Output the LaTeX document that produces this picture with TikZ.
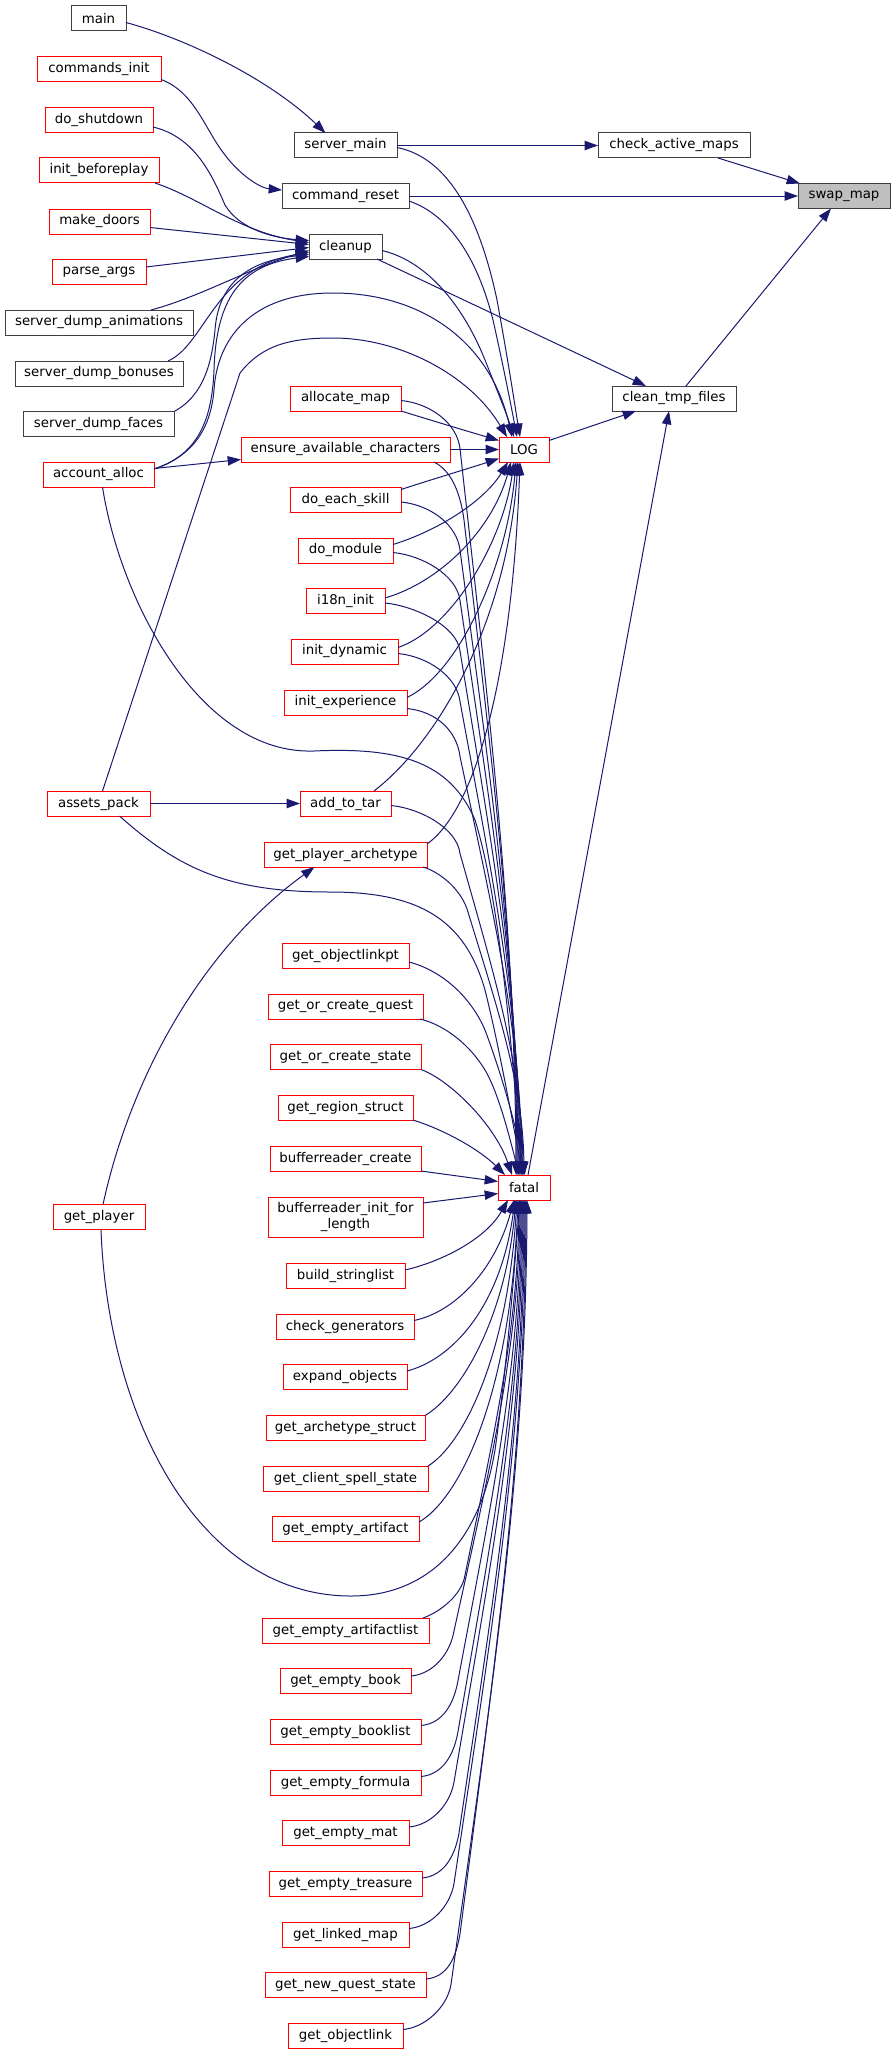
\documentclass[tikz,border=0pt]{standalone}
\usepackage{fontspec}
\newfontfamily\dv{DejaVu Sans}
\usetikzlibrary{arrows.meta,calc}
\definecolor{edgeblue}{HTML}{191970}
\definecolor{fnred}{HTML}{FF0000}
\definecolor{fngray}{HTML}{404040}
\definecolor{rootfill}{HTML}{BFBFBF}
\begin{document}
\begin{tikzpicture}[x=0.75pt,y=-0.75pt,
  box/.style={fill=white, line width=0.75pt, inner sep=0pt, outer sep=0pt, minimum height=18.75pt, font=\dv\fontsize{10}{11.5}\selectfont},
  rb/.style={box, draw=fnred},
  kb/.style={box, draw=fngray},
  bw/.style={minimum width=#1*0.75pt},
  arr/.style={draw=edgeblue, line width=0.75pt, -{Triangle[length=10pt,width=7pt]}}]
\useasboundingbox (0,0) rectangle (892,2055);
\fill[white] (0,0) rectangle (892,2055);

% left column
\node[kb,bw=55]  (main) at (98.5,18.5) {main};
\node[rb,bw=124] (commands_init) at (99,69.5) {commands\_init};
\node[rb,bw=108] (do_shutdown) at (99,120) {do\_shutdown};
\node[rb,bw=120] (init_beforeplay) at (99,170.5) {init\_beforeplay};
\node[rb,bw=101] (make_doors) at (99.5,221.5) {make\_doors};
\node[rb,bw=94]  (parse_args) at (99,272) {parse\_args};
\node[kb,bw=188] (server_dump_animations) at (99,322.5) {server\_dump\_animations};
\node[kb,bw=168] (server_dump_bonuses) at (99,373.5) {server\_dump\_bonuses};
\node[kb,bw=151] (server_dump_faces) at (98.5,424) {server\_dump\_faces};
\node[rb,bw=111] (account_alloc) at (98.5,474.5) {account\_alloc};
\node[rb,bw=103] (assets_pack) at (98.5,803.5) {assets\_pack};
\node[rb,bw=92]  (get_player) at (99,1217) {get\_player};

% middle column
\node[kb,bw=103] (server_main) at (345.5,145.5) {server\_main};
\node[kb,bw=127] (command_reset) at (345.5,196) {command\_reset};
\node[kb,bw=73]  (cleanup) at (345.5,246.5) {cleanup};
\node[rb,bw=111] (allocate_map) at (345.5,398.5) {allocate\_map};
\node[rb,bw=209] (ensure_available_characters) at (345.5,449.5) {ensure\_available\_characters};
\node[rb,bw=111] (do_each_skill) at (345.5,500) {do\_each\_skill};
\node[rb,bw=95]  (do_module) at (345.5,550.5) {do\_module};
\node[rb,bw=79]  (i18n_init) at (345.5,601) {i18n\_init};
\node[rb,bw=107] (init_dynamic) at (344.5,651.5) {init\_dynamic};
\node[rb,bw=123] (init_experience) at (345.5,702.5) {init\_experience};
\node[rb,bw=91]  (add_to_tar) at (345.5,803.5) {add\_to\_tar};
\node[rb,bw=163] (get_player_archetype) at (345.5,854.5) {get\_player\_archetype};
\node[rb,bw=127] (get_objectlinkpt) at (345.5,956) {get\_objectlinkpt};
\node[rb,bw=155] (get_or_create_quest) at (345.5,1006.5) {get\_or\_create\_quest};
\node[rb,bw=151] (get_or_create_state) at (345.5,1057) {get\_or\_create\_state};
\node[rb,bw=135] (get_region_struct) at (345.5,1107.5) {get\_region\_struct};
\node[rb,bw=151] (bufferreader_create) at (345.5,1158.5) {bufferreader\_create};
\node[rb,bw=155,minimum height=30pt,align=center] (bufferreader_init_for_length) at (345.5,1217) {bufferreader\_init\_for\\\_length};
\node[rb,bw=119] (build_stringlist) at (345.5,1276) {build\_stringlist};
\node[rb,bw=138] (check_generators) at (345,1326.5) {check\_generators};
\node[rb,bw=124] (expand_objects) at (345,1377) {expand\_objects};
\node[rb,bw=159] (get_archetype_struct) at (345.5,1428) {get\_archetype\_struct};
\node[rb,bw=165] (get_client_spell_state) at (345.5,1478.5) {get\_client\_spell\_state};
\node[rb,bw=147] (get_empty_artifact) at (345.5,1529) {get\_empty\_artifact};
\node[rb,bw=167] (get_empty_artifactlist) at (345.5,1630.5) {get\_empty\_artifactlist};
\node[rb,bw=131] (get_empty_book) at (345.5,1681) {get\_empty\_book};
\node[rb,bw=151] (get_empty_booklist) at (345.5,1731.5) {get\_empty\_booklist};
\node[rb,bw=151] (get_empty_formula) at (345.5,1782.5) {get\_empty\_formula};
\node[rb,bw=127] (get_empty_mat) at (345.5,1833) {get\_empty\_mat};
\node[rb,bw=153] (get_empty_treasure) at (345.5,1884) {get\_empty\_treasure};
\node[rb,bw=127] (get_linked_map) at (345.5,1934.5) {get\_linked\_map};
\node[rb,bw=161] (get_new_quest_state) at (345.5,1985) {get\_new\_quest\_state};
\node[rb,bw=115] (get_objectlink) at (345.5,2035.5) {get\_objectlink};

% right part
\node[rb,bw=50]  (LOG) at (524,449.5) {LOG};
\node[rb,bw=52]  (fatal) at (524,1187.5) {fatal};
\node[kb,bw=152] (check_active_maps) at (674,145.5) {check\_active\_maps};
\node[kb,bw=124] (clean_tmp_files) at (674,398.5) {clean\_tmp\_files};
\node[kb,bw=92,fill=rootfill] (swap_map) at (844,196) {swap\_map};

% top edges
\draw[arr] ($(main.east)+(0,4)$) .. controls (190,40) and (270,80) .. ($(server_main.north)+(-20,0)$);
\draw[arr] ($(commands_init.east)+(0,10)$) .. controls (195,92) and (205,130) .. (225,155) .. controls (240,175) and (260,188) .. ($(command_reset.west)+(0,-6)$);
\draw[arr] (server_main.east) -- (check_active_maps.west);
\draw[arr] (command_reset.east) -- (swap_map.west);
\draw[arr] ($(check_active_maps.south east)+(-32,0)$) -- ($(swap_map.north west)+(2,0)$);
\draw[arr] ($(clean_tmp_files.north)+(12,0)$) -- ($(swap_map.south)+(-13,0)$);
\draw[arr] ($(cleanup.south east)+(-5,0)$) -- ($(clean_tmp_files.north)+(-28,0)$);
\draw[arr] ($(LOG.east)+(0,-9)$) -- ($(clean_tmp_files.south)+(-38,0)$);
\draw[arr] ($(fatal.north)+(4,0)$) -- ($(clean_tmp_files.south)+(-5,0)$);

% cleanup callers
\draw[arr] ($(do_shutdown.east)+(0,7)$) .. controls (195,137) and (212,175) .. (225,205) .. controls (240,230) and (275,238) .. ($(cleanup.west)+(0,-6)$);
\draw[arr] ($(init_beforeplay.south east)+(-4,0)$) .. controls (200,198) and (240,232) .. ($(cleanup.west)+(0,-4)$);
\draw[arr] ($(make_doors.east)+(0,6)$) -- ($(cleanup.west)+(0,-2)$);
\draw[arr] ($(parse_args.east)+(0,-5)$) -- ($(cleanup.west)+(0,1)$);
\draw[arr] ($(server_dump_animations.north east)+(-42,0)$) .. controls (200,297) and (250,268) .. ($(cleanup.west)+(0,4)$);
\draw[arr] ($(server_dump_bonuses.north east)+(-15,0)$) .. controls (205,345) and (215,268) .. ($(cleanup.west)+(0,6)$);
\draw[arr] (server_dump_faces.north east) .. controls (205,395) and (212,360) .. (215,330) .. controls (218,290) and (240,262) .. ($(cleanup.west)+(0,8)$);
\draw[arr] ($(account_alloc.north east)+(0,7)$) .. controls (198,455) and (212,420) .. (214,370) .. controls (216,300) and (240,265) .. ($(cleanup.west)+(0,10)$);

% account_alloc
\draw[arr] ($(account_alloc.north east)+(0,7)$) .. controls (196,455) and (211,425) .. (214,390) .. controls (217,340) and (250,293) .. (333,293) .. controls (420,293) and (490,340) .. ($(LOG.north)+(-12,0)$);
\draw[arr] ($(account_alloc.east)+(0,-6)$) -- ($(ensure_available_characters.west)+(0,10)$);
\draw[arr] ($(account_alloc.south)+(4,0)$) .. controls (120,600) and (200,755) .. (314,751) .. controls (400,747) and (450,762) .. (475,820) .. controls (500,900) and (512,1050) .. ($(fatal.north)+(-2,0)$);

% assets_pack
\draw[arr] ($(assets_pack.north)+(4,0)$) -- (240,373) .. controls (262,345) and (290,338) .. (333,338) .. controls (400,338) and (470,375) .. ($(LOG.north west)+(8,0)$);
\draw[arr] (assets_pack.east) -- (add_to_tar.west);
\draw[arr] ($(assets_pack.south)+(21,0)$) .. controls (180,870) and (230,892) .. (330,892) .. controls (420,892) and (465,920) .. (485,990) .. controls (500,1050) and (512,1120) .. ($(fatal.north)+(-1,0)$);

% get_player
\draw[arr] ($(get_player.north)+(4,0)$) .. controls (130,1080) and (200,950) .. ($(get_player_archetype.south)+(-31,0)$);
\draw[arr] ($(get_player.south)+(2,0)$) .. controls (108,1420) and (200,1596) .. (351,1596) .. controls (430,1596) and (480,1540) .. (495,1450) .. controls (505,1380) and (512,1300) .. ($(fatal.south)+(-4,0)$);

% LOG from above
\draw[arr] ($(server_main.east)+(0,2)$) .. controls (450,158) and (480,220) .. (497,300) .. controls (508,360) and (514,400) .. ($(LOG.north)+(-4,0)$);
\draw[arr] ($(command_reset.east)+(0,5)$) .. controls (450,215) and (478,260) .. (493,320) .. controls (502,360) and (510,400) .. ($(LOG.north)+(-7,0)$);
\draw[arr] ($(cleanup.east)+(0,4)$) .. controls (430,262) and (465,310) .. (485,360) .. controls (497,390) and (507,415) .. ($(LOG.north)+(-10,0)$);

% LOG from the side and below
\draw[arr] (allocate_map.south east) .. controls (430,420) and (470,432) .. ($(LOG.west)+(0,-9)$);
\draw[arr] (ensure_available_characters.east) -- (LOG.west);
\draw[arr] ($(do_each_skill.north east)+(0,2)$) .. controls (430,480) and (470,468) .. ($(LOG.west)+(0,9)$);
\draw[arr] ($(do_module.east)+(0,-6)$) .. controls (440,530) and (485,500) .. ($(LOG.south)+(-16,0)$);
\draw[arr] ($(i18n_init.east)+(0,-3)$) .. controls (440,582) and (492,530) .. ($(LOG.south)+(-13,0)$);
\draw[arr] ($(init_dynamic.east)+(0,-4)$) .. controls (450,630) and (502,545) .. ($(LOG.south)+(-10,0)$);
\draw[arr] ($(init_experience.east)+(0,-5)$) .. controls (460,672) and (507,565) .. ($(LOG.south)+(-8,0)$);
\draw[arr] ($(add_to_tar.north east)+(-17,0)$) .. controls (440,740) and (507,620) .. ($(LOG.south)+(-6,0)$);
\draw[arr] ($(get_player_archetype.north east)+(0,2)$) .. controls (475,810) and (512,680) .. ($(LOG.south)+(-4,0)$);

% fatal from above
\draw[arr] ($(allocate_map.east)+(0,2)$) .. controls (431,403.5) and (457,423.5) .. (460,448.5) .. controls (488,702.8) and (515,920.7) .. ($(fatal.north)+(-8,0)$);
\draw[arr] ($(ensure_available_characters.south east)+(-16,0)$) .. controls (450,470) and (460,490) .. (464,520) .. controls (490.5,749.3) and (516,945.8) .. ($(fatal.north)+(-7,0)$);
\draw[arr] ($(do_each_skill.east)+(0,2)$) .. controls (431,505) and (457,525) .. (460,550) .. controls (489,768.8) and (517,956.3) .. ($(fatal.north)+(-6,0)$);
\draw[arr] ($(do_module.east)+(0,2)$) .. controls (423,555.5) and (457,575.5) .. (460,600.5) .. controls (489.5,801.6) and (518,973.9) .. ($(fatal.north)+(-5,0)$);
\draw[arr] ($(i18n_init.east)+(0,2)$) .. controls (415,606) and (457,626) .. (460,651) .. controls (490,834.4) and (519,991.6) .. ($(fatal.north)+(-4,0)$);
\draw[arr] ($(init_dynamic.east)+(0,2)$) .. controls (428,656.5) and (457,676.5) .. (460,701.5) .. controls (490.5,867.2) and (520,1009.3) .. ($(fatal.north)+(-3,0)$);
\draw[arr] ($(init_experience.east)+(0,6)$) .. controls (437,711.5) and (457,731.5) .. (460,756.5) .. controls (491,903) and (521,1028.5) .. ($(fatal.north)+(-2,0)$);
\draw[arr] ($(add_to_tar.east)+(0,2)$) .. controls (421,808.5) and (457,828.5) .. (460,853.5) .. controls (491.5,966) and (522,1062.5) .. ($(fatal.north)+(-1,0)$);
\draw[arr] ($(get_player_archetype.south east)+(-4,0)$) .. controls (440,872) and (462,890) .. (468,912) .. controls (496,1004) and (523,1083) .. (fatal.north);
\draw[arr] ($(get_objectlinkpt.east)+(0,6)$) .. controls (440,970) and (470,995) .. (485,1030) .. controls (500,1070) and (515,1120) .. ($(fatal.north)+(1,0)$);
\draw[arr] ($(get_or_create_quest.south east)+(-3,0)$) .. controls (445,1025) and (470,1045) .. (485,1070) .. controls (497,1090) and (508,1130) .. ($(fatal.north)+(-5,0)$);
\draw[arr] (get_or_create_state.south east) .. controls (450,1080) and (495,1125) .. ($(fatal.north)+(-12,0)$);
\draw[arr] (get_region_struct.south east) .. controls (445,1130) and (480,1150) .. ($(fatal.north west)+(7,0)$);
\draw[arr] (bufferreader_create.south east) -- ($(fatal.west)+(0,-6)$);
\draw[arr] ($(bufferreader_init_for_length.north east)+(0,6)$) -- ($(fatal.west)+(0,6)$);

% fatal from below
\draw[arr] ($(build_stringlist.east)+(0,-6)$) .. controls (440,1262) and (485,1240) .. ($(fatal.south west)+(10,0)$);
\draw[arr] ($(check_generators.east)+(0,-6)$) .. controls (455,1312) and (495,1270) .. ($(fatal.south)+(-10,0)$);
\draw[arr] ($(expand_objects.east)+(0,-6)$) .. controls (450,1360) and (500,1310) .. ($(fatal.south)+(-9,0)$);
\draw[arr] (get_archetype_struct.north east) .. controls (460,1395) and (505,1320) .. ($(fatal.south)+(-8,0)$);
\draw[arr] (get_client_spell_state.north east) .. controls (462,1445) and (507,1360) .. ($(fatal.south)+(-7,0)$);
\draw[arr] ($(get_empty_artifact.east)+(0,-7)$) .. controls (458,1500) and (510,1400) .. ($(fatal.south)+(-6,0)$);
\draw[arr] ($(get_empty_artifactlist.north east)+(-6,0)$) .. controls (440,1612) and (462,1595) .. (465,1575) .. controls (492,1443.75) and (518,1331) .. ($(fatal.south)+(-5,0)$);
\draw[arr] ($(get_empty_book.east)+(0,-5)$) .. controls (433,1674) and (450,1654) .. (454,1631) .. controls (487,1480) and (519,1351) .. ($(fatal.south)+(-4,0)$);
\draw[arr] ($(get_empty_booklist.east)+(0,-6)$) .. controls (443,1723.5) and (454,1703.5) .. (458,1680.5) .. controls (489.5,1512.3) and (520,1368.2) .. ($(fatal.south)+(-3,0)$);
\draw[arr] ($(get_empty_formula.east)+(0,-6)$) .. controls (443,1774.5) and (454,1754.5) .. (458,1731.5) .. controls (490,1545.5) and (521,1386) .. ($(fatal.south)+(-2,0)$);
\draw[arr] ($(get_empty_mat.east)+(0,-6)$) .. controls (431,1825) and (450,1805) .. (454,1782) .. controls (488.5,1578.3) and (522,1403.7) .. ($(fatal.south)+(-1,0)$);
\draw[arr] ($(get_empty_treasure.east)+(0,-6)$) .. controls (444,1876) and (455,1856) .. (459,1833) .. controls (491.5,1611.5) and (523,1421.6) .. (fatal.south);
\draw[arr] ($(get_linked_map.east)+(0,-6)$) .. controls (431,1926.5) and (450,1906.5) .. (454,1883.5) .. controls (489.5,1644.3) and (524,1439.2) .. ($(fatal.south)+(1,0)$);
\draw[arr] ($(get_new_quest_state.east)+(0,-6)$) .. controls (448,1977) and (456,1957) .. (460,1934) .. controls (493,1677.1) and (525,1456.9) .. ($(fatal.south)+(2,0)$);
\draw[arr] ($(get_objectlink.east)+(0,-6)$) .. controls (425,2027.5) and (447,2007.5) .. (451,1984.5) .. controls (489,1709.9) and (526,1474.6) .. ($(fatal.south)+(3,0)$);
\end{tikzpicture}
\end{document}
